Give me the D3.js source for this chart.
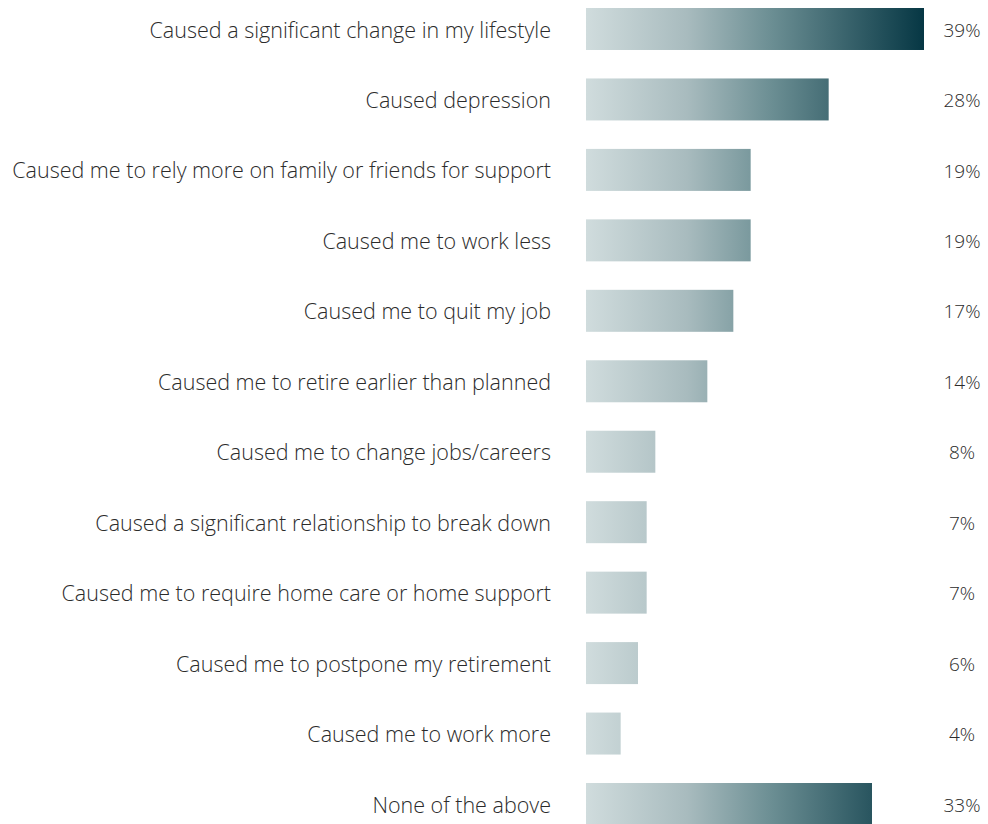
<!DOCTYPE html>
<html>
<head>
<meta charset="utf-8">
<script src="https://cdn.jsdelivr.net/npm/d3@7"></script>
<style>
  html, body { margin: 0; padding: 0; background: #fff; }
  svg { display: block; }
  text { font-family: "Open Sans", "Lato", sans-serif; font-weight: 300; fill: #2b2b2b; }
</style>
</head>
<body>
<svg id="chart" width="988" height="824"></svg>
<script>
const categories = [
  "Caused a significant change in my lifestyle",
  "Caused depression",
  "Caused me to rely more on family or friends for support",
  "Caused me to work less",
  "Caused me to quit my job",
  "Caused me to retire earlier than planned",
  "Caused me to change jobs/careers",
  "Caused a significant relationship to break down",
  "Caused me to require home care or home support",
  "Caused me to postpone my retirement",
  "Caused me to work more",
  "None of the above"
];
const values = [39, 28, 19, 19, 17, 14, 8, 7, 7, 6, 4, 33];
const valueLabels = ["39%", "28%", "19%", "19%", "17%", "14%", "8%", "7%", "7%", "6%", "4%", "33%"];

const svg = d3.select("#chart");

const x = d3.scaleLinear().domain([0, 39]).range([586, 924]);
const y = d3.scaleBand().domain(categories).range([8, 825]).paddingInner(0.404).paddingOuter(0);

// One shared horizontal gradient spanning the value axis, so longer bars reach darker tones
const defs = svg.append("defs");
const grad = defs.append("linearGradient")
  .attr("id", "barGrad")
  .attr("gradientUnits", "userSpaceOnUse")
  .attr("x1", x(0)).attr("x2", x(39)).attr("y1", 0).attr("y2", 0);
grad.append("stop").attr("offset", "0%").attr("stop-color", "#d0dcdd");
grad.append("stop").attr("offset", "30%").attr("stop-color", "#a8bbbe");
grad.append("stop").attr("offset", "55%").attr("stop-color", "#6b8e93");
grad.append("stop").attr("offset", "100%").attr("stop-color", "#063744");

const rows = categories.map((c, i) => ({ cat: c, value: values[i], label: valueLabels[i] }));

svg.append("g").selectAll("rect").data(rows).join("rect")
  .attr("x", x(0))
  .attr("y", d => y(d.cat))
  .attr("width", d => x(d.value) - x(0))
  .attr("height", y.bandwidth())
  .attr("fill", "url(#barGrad)");

svg.append("g").selectAll("text").data(rows).join("text")
  .attr("x", 551)
  .attr("y", d => y(d.cat) + y.bandwidth() / 2 + 1)
  .attr("dy", "0.35em")
  .attr("text-anchor", "end")
  .style("font-size", "21.5px")
  .text(d => d.cat);

svg.append("g").selectAll("text").data(rows).join("text")
  .attr("x", 962)
  .attr("y", d => y(d.cat) + y.bandwidth() / 2 + 1)
  .attr("dy", "0.35em")
  .attr("text-anchor", "middle")
  .style("font-size", "19px")
  .text(d => d.label);
</script>
</body>
</html>
